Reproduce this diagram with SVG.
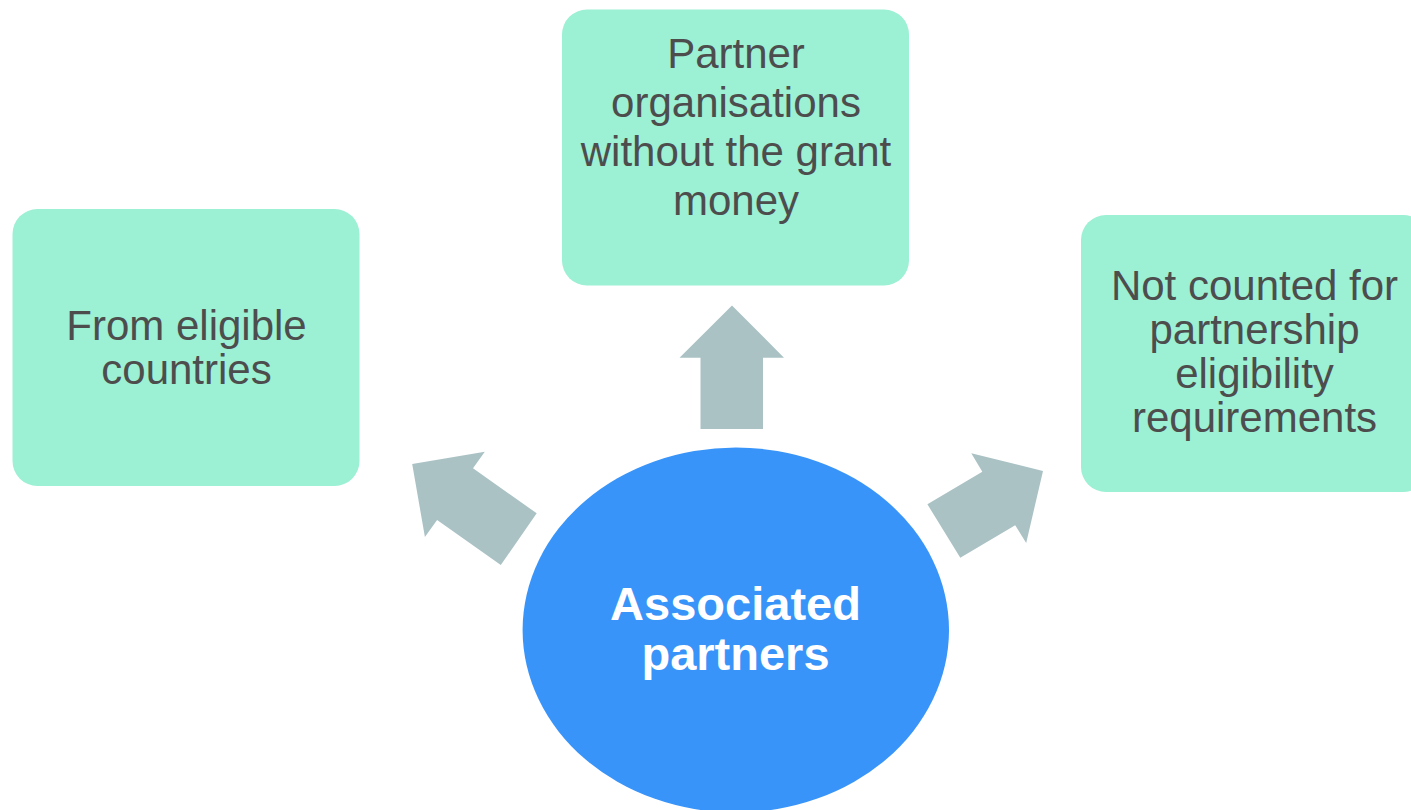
<svg xmlns="http://www.w3.org/2000/svg" width="1411" height="810" viewBox="0 0 1411 810">
<style>
.box{fill:#9CF0D4;}
.arrow{fill:#ABC2C5;}
.t{font-family:"Liberation Sans",Arial,sans-serif;font-size:42px;fill:#4D4D4D;text-anchor:middle;}
.c{font-family:"Liberation Sans",Arial,sans-serif;font-size:47px;font-weight:bold;fill:#FFFFFF;text-anchor:middle;}
</style>
<rect width="1411" height="810" fill="#FFFFFF"/>
<g id="connectors">
<polygon class="arrow" points="700.5,429 763,429 763,357.7 784,357.7 732,305.5 679.5,357.7 700.5,357.7"/>
<polygon class="arrow" points="536.7,513.3 473,468.3 484.8,451.7 412.2,464 424.9,537 437.1,520 500.8,565"/>
<polygon class="arrow" points="927.4,504.3 982.3,471.7 971.3,453.3 1043,471 1026.2,543 1015.2,525.3 960.3,557.7"/>
</g>
<g id="node-top">
<rect class="box" x="562" y="9.5" width="347" height="276" rx="25" ry="25"/>
<text class="t" x="736" y="68">Partner</text>
<text class="t" x="736" y="117">organisations</text>
<text class="t" x="736" y="166">without the grant</text>
<text class="t" x="736" y="215">money</text>
</g>
<g id="node-left">
<rect class="box" x="12.5" y="209" width="347" height="277" rx="25" ry="25"/>
<text class="t" x="186.5" y="339.5">From eligible</text>
<text class="t" x="186.5" y="383.5">countries</text>
</g>
<g id="node-right">
<rect class="box" x="1081" y="215" width="347" height="277" rx="25" ry="25"/>
<text class="t" x="1254.5" y="300">Not counted for</text>
<text class="t" x="1254.5" y="344">partnership</text>
<text class="t" x="1254.5" y="388">eligibility</text>
<text class="t" x="1254.5" y="432">requirements</text>
</g>
<g id="node-center">
<ellipse cx="735.8" cy="630" rx="213.2" ry="182.5" fill="#3894F9"/>
<text class="c" x="735.5" y="620">Associated</text>
<text class="c" x="735.5" y="670">partners</text>
</g>
</svg>
